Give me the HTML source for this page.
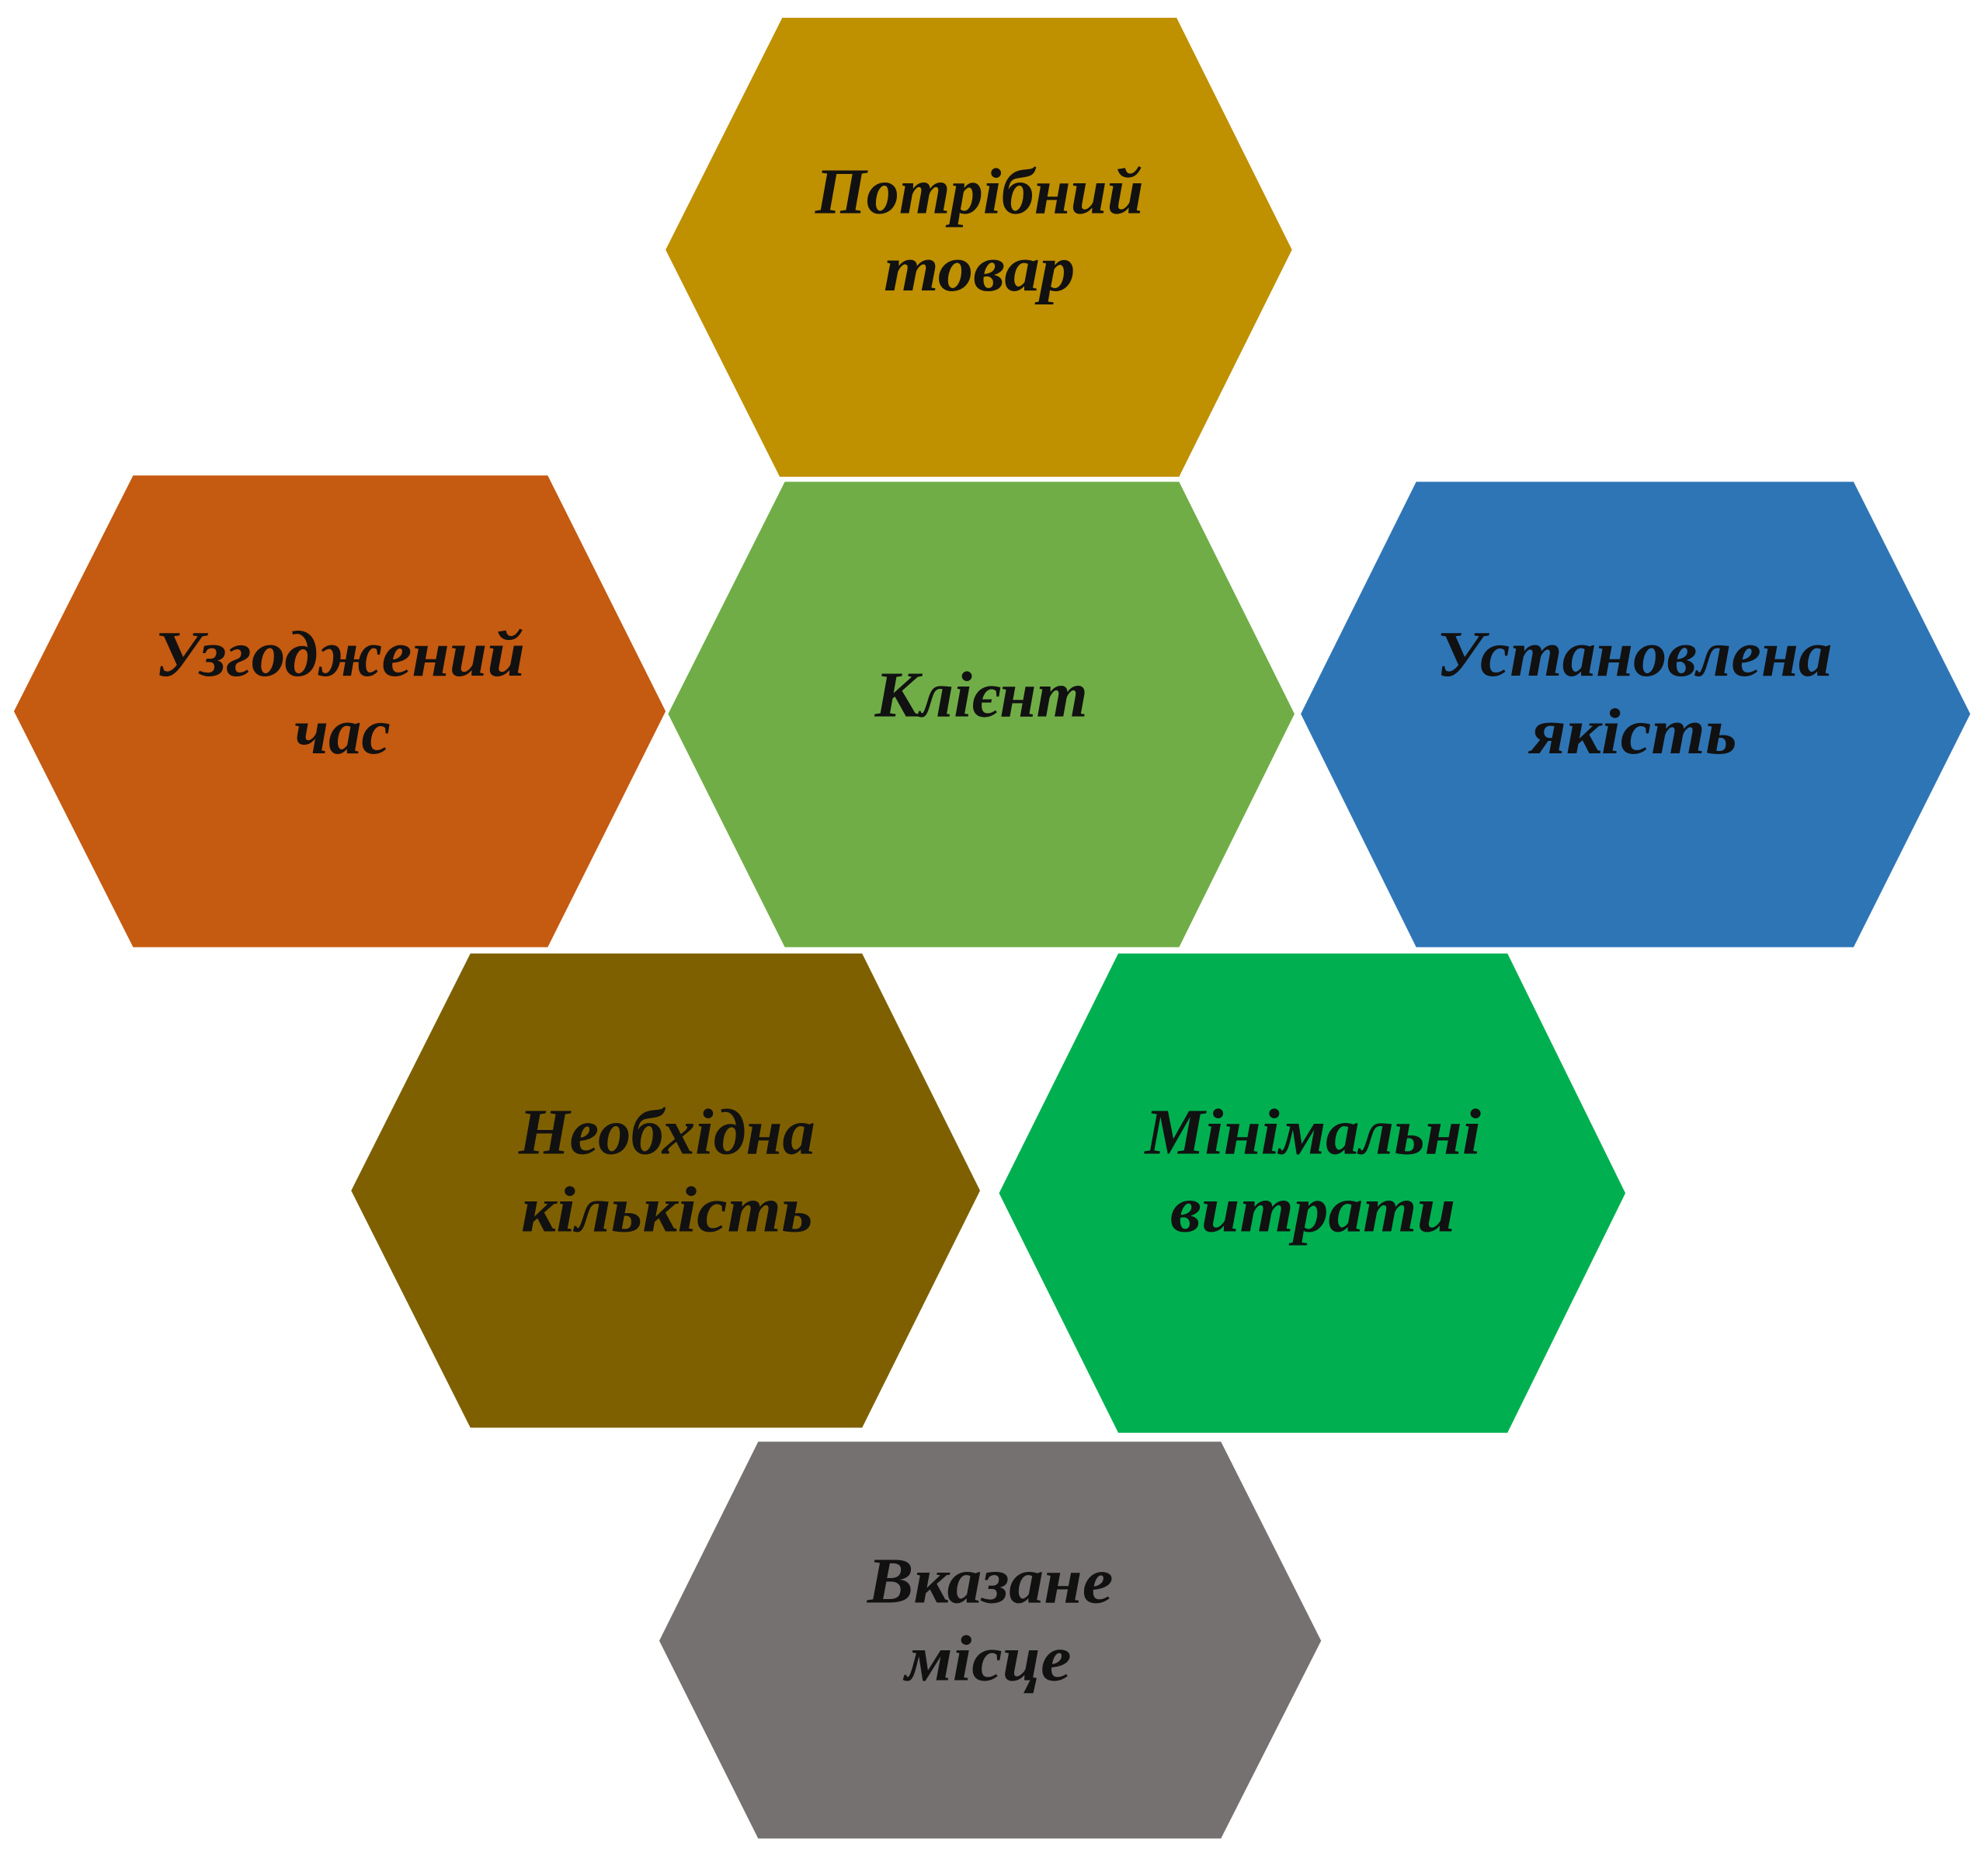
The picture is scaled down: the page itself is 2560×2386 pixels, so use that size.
<!DOCTYPE html>
<html><head><meta charset="utf-8"><style>
html,body{margin:0;padding:0;background:#fff;}
svg{display:block;}
text{font-family:"Liberation Serif","DejaVu Serif",serif;font-weight:bold;font-style:italic;fill:#111;font-size:51px;}
</style></head><body>
<svg width="2560" height="2386" viewBox="0 0 1568 1461.4" preserveAspectRatio="none" xmlns="http://www.w3.org/2000/svg">
<polygon points="617,14 928,14 1019,197 930,376 615,376 525,197" fill="#BF9000"/>
<polygon points="105,375 432,375 525,561 432,747 105,747 11,561" fill="#C55A11"/>
<polygon points="619,380 930,380 1021,563 930,747 619,747 527,563" fill="#70AD47"/>
<polygon points="1117,380 1462,380 1554,563 1462,747 1117,747 1026,563" fill="#2E75B6"/>
<polygon points="371,752 680,752 773,939 680,1126 371,1126 277,939" fill="#7F6000"/>
<polygon points="882,752 1189,752 1282,941 1189,1130 882,1130 788,941" fill="#00B050"/>
<polygon points="598,1137 963,1137 1042,1294 963,1450 598,1450 520,1294" fill="#767171"/>

<text x="643" y="168" textLength="259" lengthAdjust="spacingAndGlyphs">Потрібний</text>
<text x="697" y="229" textLength="151" lengthAdjust="spacingAndGlyphs">товар</text>

<text x="122" y="533" textLength="292" lengthAdjust="spacingAndGlyphs">Узгоджений</text>
<text x="232" y="594" textLength="76" lengthAdjust="spacingAndGlyphs">час</text>

<text x="690" y="565" textLength="168" lengthAdjust="spacingAndGlyphs">Клієнт</text>

<text x="1133" y="533" textLength="312" lengthAdjust="spacingAndGlyphs">Установлена</text>
<text x="1207" y="594" textLength="163" lengthAdjust="spacingAndGlyphs">якість</text>

<text x="409" y="910" textLength="234" lengthAdjust="spacingAndGlyphs">Необхідна</text>
<text x="411" y="971" textLength="230" lengthAdjust="spacingAndGlyphs">кількість</text>

<text x="903" y="910" textLength="265" lengthAdjust="spacingAndGlyphs">Мінімальні</text>
<text x="923" y="971" textLength="225" lengthAdjust="spacingAndGlyphs">витрати</text>

<text x="684" y="1264" textLength="194" lengthAdjust="spacingAndGlyphs">Вказане</text>
<text x="714" y="1325" textLength="131" lengthAdjust="spacingAndGlyphs">місце</text>
</svg>
</body></html>
